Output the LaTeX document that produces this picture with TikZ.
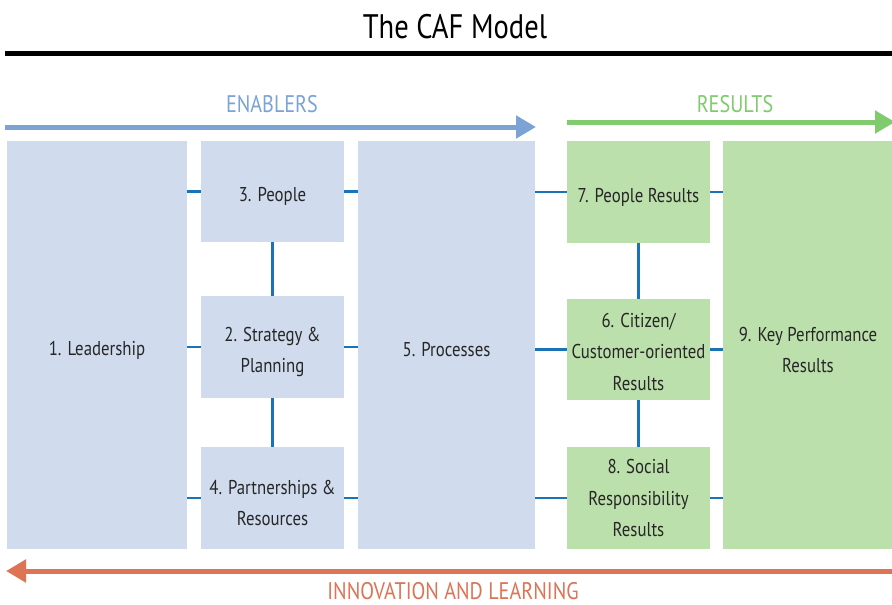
\documentclass[tikz,border=0pt]{standalone}
\usepackage{fontspec}
\setmainfont{PT Sans}[FakeStretch=0.84]
\usetikzlibrary{arrows.meta}
\definecolor{enablefill}{HTML}{D0DCEE}
\definecolor{resultfill}{HTML}{BCE0AC}
\definecolor{enablearrow}{HTML}{7BA3D6}
\definecolor{resultarrow}{HTML}{7FCB6E}
\definecolor{learnarrow}{HTML}{DC7455}
\definecolor{linkblue}{HTML}{1C72B6}
\definecolor{boxtext}{HTML}{262626}
\tikzset{
  enabler/.style={fill=enablefill, draw=none, inner sep=0pt},
  result/.style={fill=resultfill, draw=none, inner sep=0pt},
  boxlabel/.style={text=boxtext, align=center, inner sep=0pt, yshift=-5pt,
    font=\fontsize{20}{31.5}\selectfont},
  link/.style={draw=linkblue, line width=2.6pt},
  flow/.style={line width=5pt, -{Triangle[length=20pt, width=22pt]}},
  heading/.style={font=\fontsize{24}{28}\selectfont, inner sep=0pt}
}
\begin{document}
\begin{tikzpicture}[x=1pt, y=-1pt]
\useasboundingbox (0,0) rectangle (892,605);
\fill[white] (0,0) rectangle (892,605);

% title and rule
\node[font=\fontsize{34}{38}\selectfont, inner sep=0pt] (title) at (455,27) {The CAF Model};
\coordinate (ruleL) at (5,53);
\coordinate (ruleR) at (892,53);
\draw[line width=5pt] (ruleL) -- (ruleR);

% enablers / results headings with flow arrows
\node[heading, text=enablearrow] (enablers) at (272,104) {ENABLERS};
\coordinate (enA) at (5,127);
\coordinate (enB) at (536,127);
\draw[flow, enablearrow] (enA) -- (enB);
\node[heading, text=resultarrow] (results) at (735,104) {RESULTS};
\coordinate (reA) at (567,122);
\coordinate (reB) at (895,122);
\draw[flow, resultarrow] (reA) -- (reB);

% enabler boxes
\node[enabler, minimum width=180pt, minimum height=408pt] (lead) at (97,345) {};
\node[enabler, minimum width=143pt, minimum height=101pt] (people) at (272.5,191.5) {};
\node[enabler, minimum width=143pt, minimum height=102pt] (strat) at (272.5,347) {};
\node[enabler, minimum width=143pt, minimum height=102pt] (partner) at (272.5,498) {};
\node[enabler, minimum width=177pt, minimum height=408pt] (proc) at (446.5,345) {};

% result boxes
\node[result, minimum width=143pt, minimum height=102pt] (peopleres) at (638.5,192) {};
\node[result, minimum width=143pt, minimum height=101pt] (citizen) at (638.5,349.5) {};
\node[result, minimum width=143pt, minimum height=102pt] (social) at (638.5,498) {};
\node[result, minimum width=170pt, minimum height=408pt] (kpr) at (808,345) {};

% box labels
\node[boxlabel] (leadT) at (lead.center) {1. Leadership};
\node[boxlabel] (peopleT) at (people.center) {3. People};
\node[boxlabel] (stratT) at (strat.center) {2. Strategy \&\\Planning};
\node[boxlabel] (partnerT) at (partner.center) {4. Partnerships \&\\Resources};
\node[boxlabel] (procT) at (proc.center) {5. Processes};
\node[boxlabel] (peopleresT) at (peopleres.center) {7. People Results};
\node[boxlabel, yshift=3pt] (citizenT) at (citizen.center) {6. Citizen/\\Customer-oriented\\Results};
\node[boxlabel, yshift=5pt] (socialT) at (social.center) {8. Social\\Responsibility\\Results};
\node[boxlabel] (kprT) at (kpr.center) {9. Key Performance\\Results};

% links between boxes
\draw[link] (lead.east |- people.west) -- (people.west);
\draw[link] (lead.east |- strat.west) -- (strat.west);
\draw[link] (lead.east |- partner.west) -- (partner.west);
\draw[link] (people.east) -- (proc.west |- people.east);
\draw[link] (strat.east) -- (proc.west |- strat.east);
\draw[link] (partner.east) -- (proc.west |- partner.east);
\draw[link] (people.south) -- (strat.north);
\draw[link] (strat.south) -- (partner.north);

\draw[link] (proc.east |- peopleres.west) -- (peopleres.west);
\draw[link] (proc.east |- citizen.west) -- (citizen.west);
\draw[link] (proc.east |- social.west) -- (social.west);
\draw[link] (peopleres.east) -- (kpr.west |- peopleres.east);
\draw[link] (citizen.east) -- (kpr.west |- citizen.east);
\draw[link] (social.east) -- (kpr.west |- social.east);
\draw[link] (peopleres.south) -- (citizen.north);
\draw[link] (citizen.south) -- (social.north);

% innovation and learning feedback arrow
\coordinate (leA) at (895,571);
\coordinate (leB) at (6,571);
\draw[flow, learnarrow] (leA) -- (leB);
\node[heading, text=learnarrow] (learning) at (453,591) {INNOVATION AND LEARNING};
\end{tikzpicture}
\end{document}
